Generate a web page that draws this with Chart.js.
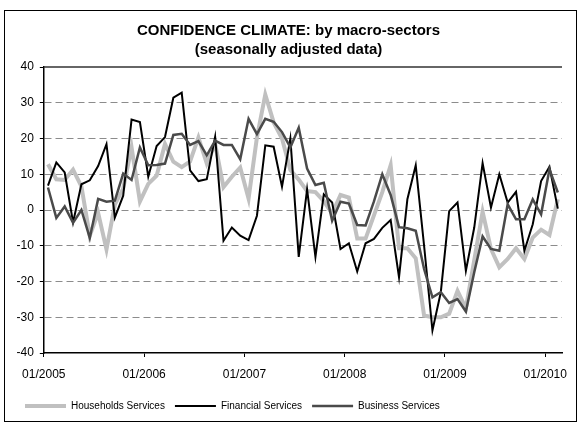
<!DOCTYPE html>
<html>
<head>
<meta charset="utf-8">
<script src="https://cdn.jsdelivr.net/npm/chart.js@4/dist/chart.umd.min.js"></script>
<style>
  html, body { margin: 0; padding: 0; background: #fff; }
  canvas { display: block; }
</style>
</head>
<body>
<canvas id="c" width="581" height="424"></canvas>
<script>
// Monthly categories 01/2005 .. 02/2010
const categories = [];
for (let y = 2005; y <= 2010; y++) {
  for (let m = 1; m <= 12; m++) {
    if (y === 2010 && m > 2) break;
    categories.push((m < 10 ? '0' + m : '' + m) + '/' + y);
  }
}
const tickLabels = ['01/2005', '01/2006', '01/2007', '01/2008', '01/2009', '01/2010'];
const tickMonths = [0, 12, 24, 36, 48, 60];
const seriesNames = ['Households Services', 'Financial Services', 'Business Services'];

const households = [12.8, 8.6, 8.4, 11.3, 6.6, -7.2, -0.8, -11, 1.5, 6,
  17.5, 2.4, 7.3, 9.6, 18.5, 13.5, 12, 13.6, 20.3, 13,
  18.5, 6.4, 9.3, 11.9, 3.2, 20.3, 32.3, 24.5, 20, 11.2,
  8.5, 5.3, 5, 2.5, -1, 4.2, 3.5, -8, -8, -1.5,
  5, 12.5, -10.7, -10.7, -13.5, -29.5, -30, -30, -29, -22.6,
  -27.5, -14, -0.5, -10.9, -16, -13.7, -10.7, -13.7, -7.7, -5.5,
  -7, 3];
const financial = [6.8, 13.3, 10.5, -3.5, 7.2, 8.3, 12.3, 18.4, -2.1, 4,
  25.3, 24.6, 9.3, 17.9, 20.4, 31.4, 32.8, 11.1, 8.1, 8.6,
  20.5, -8.6, -4.9, -7.2, -8.4, -1.6, 18.1, 17.7, 6.5, 20,
  -13.1, 5.8, -13.1, 4.4, 2.1, -10.9, -9.3, -17.2, -9.3, -8.1,
  -5, -2.8, -18.8, 3, 12.5, -10, -33.7, -23, -0.3, 2.1,
  -17, -4.9, 13.1, 0.7, 10, 2.1, 5.1, -11.4, -4, 8.1,
  12.1, 0.4];
const business = [6.3, -2.2, 1, -3.6, 0, -7.8, 3.1, 2.3, 2.6, 10.2,
  8.4, 17.5, 12.5, 12.6, 13, 21, 21.3, 18.2, 19.3, 15.3,
  19.4, 18.2, 18.2, 14.2, 25.5, 21.2, 25.5, 24.7, 21.8, 17.5,
  23, 11.6, 7, 7.6, -3, 2.3, 1.8, -4.2, -4.3, 2.4,
  10, 4.2, -4.8, -5.1, -5.8, -16.5, -24.4, -23, -26, -24.9,
  -28.4, -17.4, -7.4, -10.9, -11.4, 1.6, -2.6, -2.6, 3, -1.2,
  11.4, 4.9];

function toPoints(arr) {
  return arr.map((v, i) => ({ x: i + 0.5, y: v }));
}

const frame = {
  id: 'frame',
  beforeDraw(chart) {
    const ctx = chart.ctx;
    ctx.save();
    ctx.fillStyle = '#fff';
    ctx.fillRect(0, 0, chart.width, chart.height);
    ctx.strokeStyle = '#000';
    ctx.lineWidth = 1;
    ctx.strokeRect(4.5, 10.5, 572, 411);
    ctx.restore();
  },
  beforeDatasetsDraw(chart) {
    const a = chart.chartArea;
    const ctx = chart.ctx;
    ctx.save();
    ctx.strokeStyle = '#333';
    ctx.lineWidth = 1.5;
    ctx.beginPath();
    ctx.moveTo(a.left, a.top);
    ctx.lineTo(a.right, a.top);
    ctx.stroke();
    ctx.restore();
  }
};

const font = "'Liberation Sans', Arial, sans-serif";

new Chart(document.getElementById('c'), {
  type: 'line',
  data: {
    datasets: [
      { label: seriesNames[0], data: toPoints(households), borderColor: '#c0c0c0', backgroundColor: '#c0c0c0', borderWidth: 4, order: 3 },
      { label: seriesNames[1], data: toPoints(financial), borderColor: '#000000', backgroundColor: '#000000', borderWidth: 2, order: 2 },
      { label: seriesNames[2], data: toPoints(business), borderColor: '#4a4a4a', backgroundColor: '#4a4a4a', borderWidth: 2.5, order: 1 }
    ]
  },
  plugins: [frame],
  options: {
    responsive: false,
    animation: false,
    devicePixelRatio: 1,
    elements: {
      point: { radius: 0, hoverRadius: 0 },
      line: { tension: 0, borderJoinStyle: 'miter', borderCapStyle: 'butt', fill: false }
    },
    layout: { padding: { left: 15, right: 19, top: 0, bottom: 3 } },
    plugins: {
      title: {
        display: true,
        text: ['CONFIDENCE CLIMATE: by macro-sectors', '(seasonally adjusted data)'],
        color: '#000',
        font: { family: font, size: 15, weight: 'bold', lineHeight: 1.267 },
        padding: { top: 21, bottom: 8 }
      },
      legend: {
        position: 'bottom',
        align: 'start',
        labels: {
          usePointStyle: true,
          pointStyle: 'line',
          pointStyleWidth: 41,
          boxHeight: 10,
          padding: 10,
          color: '#000',
          font: { family: font, size: 10 },
          sort: (a, b) => a.datasetIndex - b.datasetIndex
        }
      },
      tooltip: { enabled: false }
    },
    scales: {
      x: {
        type: 'linear',
        min: 0,
        max: 62,
        afterBuildTicks: (scale) => { scale.ticks = tickMonths.map(v => ({ value: v })); },
        afterFit: (scale) => { scale.height = 38; },
        ticks: {
          color: '#000',
          font: { family: font, size: 12 },
          padding: 10,
          maxRotation: 0,
          autoSkip: false,
          callback: (value) => { const k = tickMonths.indexOf(value); return k >= 0 ? tickLabels[k] : ''; }
        },
        grid: { drawOnChartArea: false, drawTicks: true, tickLength: 4, tickColor: '#000', tickWidth: 1 },
        border: { display: true, color: '#000', width: 1.5 }
      },
      y: {
        min: -40,
        max: 40,
        afterFit: (scale) => { scale.width = 28.8; },
        ticks: {
          stepSize: 10,
          color: '#000',
          font: { family: font, size: 12 },
          padding: 6
        },
        grid: {
          color: (ctx) => (ctx.tick && (ctx.tick.value === 40 || ctx.tick.value === -40)) ? 'rgba(0,0,0,0)' : '#8c8c8c',
          lineWidth: 1,
          drawTicks: true,
          tickLength: 4,
          tickColor: '#000',
          tickWidth: 1
        },
        border: { display: true, color: '#000', width: 1.5, dash: [7, 4] }
      }
    }
  }
});
</script>
</body>
</html>
